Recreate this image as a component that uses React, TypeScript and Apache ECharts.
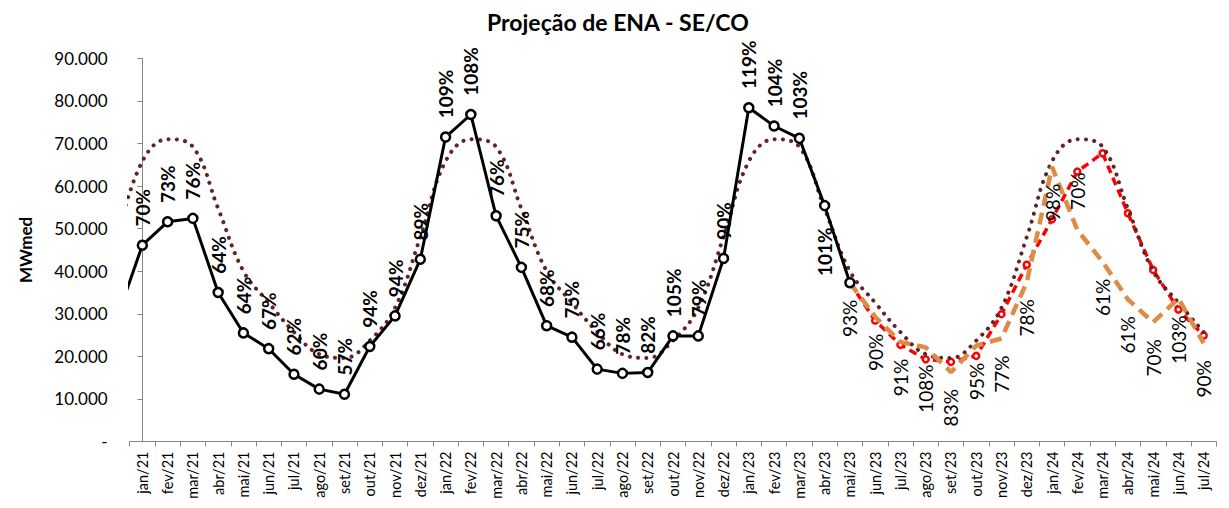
import React, { useEffect, useRef } from "react";
import * as echarts from "echarts";

const categories = [
  "jan/21", "fev/21", "mar/21", "abr/21", "mai/21", "jun/21", "jul/21", "ago/21", "set/21", "out/21", "nov/21", "dez/21",
  "jan/22", "fev/22", "mar/22", "abr/22", "mai/22", "jun/22", "jul/22", "ago/22", "set/22", "out/22", "nov/22", "dez/22",
  "jan/23", "fev/23", "mar/23", "abr/23", "mai/23", "jun/23", "jul/23", "ago/23", "set/23", "out/23", "nov/23", "dez/23",
  "jan/24", "fev/24", "mar/24", "abr/24", "mai/24", "jun/24", "jul/24",
];

// ENA verificada (jan/21 .. mai/23); value before jan/21 (dez/20) runs in from the left edge
const enaVerificadaDez20 = 29000;
const enaVerificada = [
  46100, 51600, 52400, 35000, 25500, 21800, 15800, 12300, 11100, 22300, 29500, 42800,
  71500, 76800, 53000, 40900, 27200, 24500, 17000, 16000, 16200, 24800, 24800, 43000,
  78400, 74100, 71200, 55400, 37300,
];
const pctVerificada = [
  "70%", "73%", "76%", "64%", "64%", "67%", "62%", "60%", "57%", "94%", "94%", "89%",
  "109%", "108%", "76%", "75%", "68%", "75%", "66%", "78%", "82%", "105%", "79%", "90%",
  "119%", "104%", "103%", "101%", "",
];

// MLT (dotted), dez/20 then jan/21 .. jul/24
const mltDez20 = 48000;
const mlt = [
  65800, 71000, 69200, 54700, 40000, 32600, 25700, 20500, 19600, 23700, 31400, 48000,
  65800, 71000, 69200, 54700, 40000, 32600, 25700, 20500, 19600, 23700, 31400, 48000,
  65800, 71000, 69200, 54700, 40000, 32600, 25700, 20500, 19600, 23700, 31400, 48000,
  65800, 71000, 69200, 54700, 40000, 32600, 25700,
];

// Projections from mai/23 .. jul/24
const projStart = 28;
const projecaoVermelha = [37300, 28400, 22700, 19300, 18700, 20100, 29900, 41500, 52200, 63400, 67700, 53600, 40300, 31000, 24900];
const projecaoLaranja = [37300, 29300, 23400, 22100, 16300, 22500, 24200, 37400, 64500, 49700, 42200, 33400, 28000, 33600, 23100];
const pctLaranja = ["93%", "90%", "91%", "108%", "83%", "95%", "77%", "78%", "98%", "70%", "61%", "61%", "70%", "103%", "90%"];

const FONT = "Lato";
const AXIS_GRAY = "#868686";

const labelAbove = { position: "top", align: "left", verticalAlign: "middle" };
const labelBelow = { position: "bottom", align: "right", verticalAlign: "middle" };

function buildOption() {
  const blackData: any[] = [{ value: [-1, enaVerificadaDez20], label: { show: false } }];
  enaVerificada.forEach((v, i) => {
    const item: any = { value: [i, v] };
    if (i === 27) item.label = { ...labelBelow, distance: 16 };
    blackData.push(item);
  });

  const mltData: any[] = [[-1, mltDez20]];
  mlt.forEach((v, i) => mltData.push([i, v]));

  const redData = projecaoVermelha.map((v, i) => [projStart + i, v]);
  const orangeData = projecaoLaranja.map((v, i) => {
    const item: any = { value: [projStart + i, v] };
    if (i === 9) item.label = { ...labelAbove, distance: 20 };
    return item;
  });

  return {
    animation: false,
    backgroundColor: "#ffffff",
    title: {
      text: "Projeção de ENA - SE/CO",
      left: 482,
      top: 5,
      textStyle: { fontFamily: FONT, fontSize: 23, fontWeight: "bold", color: "#000" },
    },
    grid: { left: 129.7, right: 12.7, top: 58.3, bottom: 66.5, containLabel: false },
    xAxis: [
      {
        type: "category",
        data: categories,
        boundaryGap: true,
        axisLine: { show: true, lineStyle: { color: AXIS_GRAY, width: 1 } },
        axisTick: { show: true, interval: 0, length: 5, lineStyle: { color: AXIS_GRAY } },
        axisLabel: { interval: 0, rotate: 90, fontFamily: FONT, fontSize: 14.5, color: "#000", margin: 10 },
        splitLine: { show: false },
      },
      { type: "value", min: -0.5, max: 42.5, show: false, splitLine: { show: false } },
    ],
    yAxis: {
      type: "value",
      min: 0,
      max: 90000,
      interval: 10000,
      name: "MWmed",
      nameLocation: "middle",
      nameRotate: 90,
      nameGap: 96,
      nameTextStyle: { fontFamily: FONT, fontSize: 17, fontWeight: "bold", color: "#000" },
      axisLine: { show: true, lineStyle: { color: AXIS_GRAY, width: 1 } },
      axisTick: { show: true, length: 5, lineStyle: { color: AXIS_GRAY } },
      axisLabel: {
        fontFamily: FONT,
        fontSize: 17,
        color: "#000",
        margin: 22,
        formatter: (v: number) => (v === 0 ? "-" : `${v / 1000}.000`),
      },
      splitLine: { show: false },
    },
    series: [
      {
        name: "Projeção 1",
        type: "line",
        xAxisIndex: 1,
        data: redData,
        symbol: "circle",
        symbolSize: 6,
        itemStyle: { color: "#ffffff", borderColor: "#ff0000", borderWidth: 2.5 },
        lineStyle: { color: "#ff0000", width: 3.5, type: [8, 5] },
        z: 2,
      },
      {
        name: "MLT",
        type: "line",
        xAxisIndex: 1,
        data: mltData,
        smooth: 0.4,
        symbol: "none",
        lineStyle: { color: "#632523", width: 4, type: [0.1, 8.2], cap: "round" },
        z: 3,
      },
      {
        name: "Projeção 2",
        type: "line",
        xAxisIndex: 1,
        data: orangeData,
        symbol: "circle",
        symbolSize: 0.01,
        itemStyle: { color: "transparent", borderWidth: 0 },
        lineStyle: { color: "#DD8C48", width: 4.5, type: [12, 7] },
        label: {
          show: true,
          ...labelBelow,
          distance: 17,
          rotate: 90,
          fontFamily: FONT,
          fontSize: 19,
          color: "#000",
          formatter: (p: any) => pctLaranja[p.dataIndex] ?? "",
        },
        z: 4,
      },
      {
        name: "ENA",
        type: "line",
        xAxisIndex: 1,
        data: blackData,
        symbol: "circle",
        symbolSize: 9,
        itemStyle: { color: "#ffffff", borderColor: "#000000", borderWidth: 2.5 },
        lineStyle: { color: "#000000", width: 3 },
        label: {
          show: true,
          ...labelAbove,
          distance: 13,
          rotate: 90,
          fontFamily: FONT,
          fontSize: 19,
          fontWeight: "bold",
          color: "#000",
          formatter: (p: any) => (p.dataIndex === 0 ? "" : pctVerificada[p.dataIndex - 1] ?? ""),
        },
        z: 5,
      },
    ],
  };
}

export default function App() {
  const ref = useRef<HTMLDivElement>(null);
  useEffect(() => {
    if (!ref.current) return;
    const chart = echarts.init(ref.current, null, { renderer: "svg" });
    chart.setOption(buildOption() as any);
    return () => chart.dispose();
  }, []);
  return (
    <div
      ref={ref}
      style={{ position: "fixed", left: 0, top: 0, width: 1229, height: 508, background: "#ffffff" }}
    />
  );
}
